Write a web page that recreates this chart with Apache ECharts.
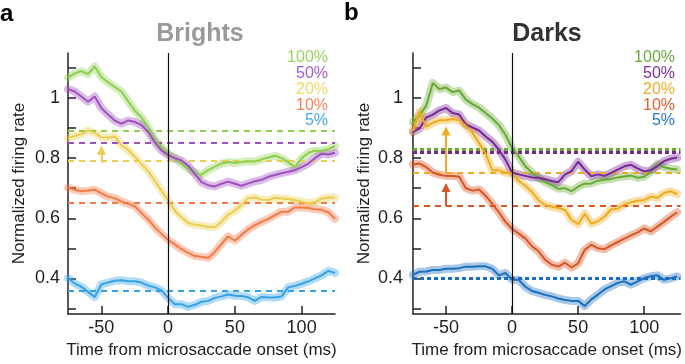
<!DOCTYPE html>
<html><head><meta charset="utf-8">
<script src="https://cdn.jsdelivr.net/npm/echarts@6/dist/echarts.min.js"></script>
<style>html,body{margin:0;padding:0;background:#fff}#c{width:685px;height:364px}</style>
</head><body><div id="c"></div>
<script>
// ---- data ----
const times = [-75,-70,-65,-60,-55,-50,-45,-40,-35,-30,-25,-20,-15,-10,-5,0,5,10,15,20,25,30,35,40,45,50,55,60,65,70,75,80,85,90,95,100,105,110,115,120,125];
const levels = ['100%','50%','20%','10%','5%'];

const brights100 = [1.068,1.082,1.090,1.080,1.105,1.070,1.052,1.037,1.022,0.990,0.958,0.936,0.903,0.862,0.838,0.815,0.800,0.782,0.765,0.752,0.745,0.760,0.772,0.782,0.787,0.784,0.787,0.790,0.789,0.796,0.802,0.808,0.800,0.786,0.770,0.800,0.817,0.825,0.825,0.830,0.840];
const brights50  = [1.030,1.022,1.005,0.988,1.005,0.967,0.945,0.925,0.915,0.925,0.921,0.910,0.888,0.853,0.826,0.810,0.800,0.792,0.775,0.748,0.720,0.710,0.706,0.715,0.722,0.715,0.708,0.716,0.723,0.728,0.738,0.744,0.750,0.755,0.760,0.770,0.782,0.800,0.815,0.812,0.818];
const brights20  = [0.866,0.874,0.880,0.892,0.884,0.870,0.868,0.872,0.843,0.828,0.805,0.780,0.757,0.725,0.692,0.660,0.625,0.603,0.584,0.578,0.576,0.571,0.571,0.588,0.612,0.625,0.645,0.667,0.669,0.662,0.661,0.668,0.666,0.664,0.660,0.655,0.650,0.653,0.665,0.669,0.668];
const brights10  = [0.702,0.695,0.690,0.692,0.695,0.683,0.672,0.667,0.656,0.648,0.640,0.618,0.596,0.570,0.548,0.528,0.513,0.497,0.485,0.474,0.472,0.468,0.488,0.515,0.540,0.525,0.545,0.563,0.577,0.588,0.598,0.610,0.622,0.622,0.636,0.636,0.634,0.630,0.628,0.620,0.598];
const brights5   = [0.401,0.383,0.372,0.355,0.338,0.380,0.386,0.392,0.394,0.390,0.390,0.386,0.376,0.370,0.360,0.335,0.314,0.314,0.305,0.312,0.322,0.325,0.335,0.340,0.346,0.342,0.341,0.337,0.325,0.338,0.336,0.336,0.340,0.370,0.375,0.382,0.390,0.400,0.410,0.425,0.418];

const darks100 = [0.920,0.943,0.975,1.050,1.030,1.035,1.020,1.025,0.995,0.980,0.968,0.950,0.932,0.910,0.878,0.834,0.806,0.773,0.752,0.735,0.720,0.710,0.698,0.700,0.690,0.705,0.715,0.716,0.725,0.728,0.731,0.736,0.739,0.742,0.735,0.738,0.755,0.780,0.770,0.765,0.762];
const darks50  = [0.887,0.899,0.935,0.945,0.959,0.967,0.950,0.945,0.912,0.902,0.892,0.872,0.855,0.828,0.795,0.752,0.746,0.741,0.736,0.735,0.730,0.724,0.720,0.745,0.757,0.788,0.762,0.740,0.746,0.741,0.751,0.762,0.773,0.778,0.766,0.756,0.760,0.773,0.790,0.798,0.802];
const darks20  = [0.890,0.955,0.905,0.918,0.926,0.926,0.930,0.926,0.908,0.885,0.850,0.815,0.760,0.760,0.752,0.748,0.725,0.708,0.688,0.660,0.645,0.638,0.634,0.628,0.595,0.580,0.615,0.582,0.590,0.606,0.630,0.632,0.646,0.653,0.658,0.660,0.672,0.668,0.684,0.690,0.680];
const darks10  = [0.779,0.782,0.770,0.752,0.745,0.741,0.741,0.738,0.700,0.692,0.696,0.675,0.648,0.620,0.588,0.565,0.549,0.533,0.507,0.490,0.462,0.445,0.439,0.452,0.436,0.450,0.495,0.512,0.500,0.497,0.510,0.521,0.532,0.543,0.553,0.566,0.556,0.572,0.588,0.605,0.620];
const darks5   = [0.412,0.422,0.423,0.428,0.428,0.432,0.432,0.434,0.439,0.439,0.440,0.440,0.432,0.410,0.418,0.395,0.395,0.372,0.358,0.352,0.345,0.340,0.333,0.328,0.325,0.325,0.308,0.330,0.346,0.363,0.374,0.385,0.390,0.379,0.390,0.401,0.407,0.410,0.395,0.400,0.407];

const brightsBaseline = [0.893,0.849,0.785,0.650,0.360];
const darksBaseline   = [0.833,0.821,0.754,0.640,0.399];
// arrows: [time, from, to, level index]
const brightsArrows = [[-50,0.785,0.826,2]];
const darksArrows   = [[-50,0.754,0.890,2],[-50,0.640,0.702,3]];

const xTicks = [-50,0,50,100];
const yTicks = [0.3,0.4,0.5,0.6,0.7,0.8,0.9,1.0,1.1];
const yLabels = [0.4,0.6,0.8,1.0];

// ---- style ----
const FONT = '"Liberation Sans", Arial, sans-serif';
const NARROW = '"Liberation Sans Narrow", "Liberation Sans", Arial, sans-serif';
const colorsA = ['#8fcf4f','#a050be','#ebcd50','#f47a46','#35a2e6'];
const colorsB = ['#66aa33','#782896','#f0aa1e','#d95523','#1a6ebe'];
const textA = ['#98d35a','#a65bc8','#f2d868','#f5855a','#45a8ee'];
const textB = ['#6aab38','#7b2e9b','#f2aa2a','#e0622c','#2277c4'];

const panels = [
  {vals:[brights100,brights50,brights20,brights10,brights5], base:brightsBaseline, arrows:brightsArrows, colors:colorsA, text:textA,
   dash:[[6,5],[6,5],[6,5],[6,5],[6,5]], dw:[2,2,2,2,2]},
  {vals:[darks100,darks50,darks20,darks10,darks5], base:darksBaseline, arrows:darksArrows, colors:colorsB, text:textB,
   dash:[[4,3],[4,3],[6,5],[6,5],[4,3]], dw:[3,3,2,2,3]}
];

const series = [];
panels.forEach((p, pi) => {
  p.vals.forEach((v, i) => {
    const data = times.map((t, k) => [t, v[k]]);
    series.push({
      type:'line', xAxisIndex:pi, yAxisIndex:pi, data, showSymbol:false, silent:true,
      z:1, lineStyle:{width:8, color:p.colors[i], opacity:0.38, join:'round', cap:'round'},
      animation:false,
      markLine:{silent:true, symbol:['none','none'], label:{show:false}, animation:false, z:2,
        lineStyle:{color:p.colors[i], type:p.dash[i], width:p.dw[i], opacity:1},
        emphasis:{disabled:true},
        data:[{yAxis:p.base[i]}]}
    });
  });
  p.vals.forEach((v, i) => {
    const data = times.map((t, k) => [t, v[k]]);
    series.push({
      type:'line', xAxisIndex:pi, yAxisIndex:pi, data, showSymbol:false, silent:true,
      z:3, lineStyle:{width:2, color:p.colors[i]}, animation:false
    });
  });
  // vertical onset line
  series.push({type:'line', xAxisIndex:pi, yAxisIndex:pi, data:[], silent:true, animation:false,
    markLine:{silent:true, symbol:['none','none'], label:{show:false}, animation:false,
      lineStyle:{color:'#111', type:'solid', width:1.2}, emphasis:{disabled:true},
      data:[{xAxis:0}]}});
  // arrows
  p.arrows.forEach(a => {
    series.push({type:'line', xAxisIndex:pi, yAxisIndex:pi, data:[], silent:true, animation:false, z:4,
      markLine:{silent:true, symbol:['none','triangle'], symbolSize:9, label:{show:false}, animation:false,
        itemStyle:{color:p.colors[a[3]]},
        lineStyle:{color:p.colors[a[3]], type:'solid', width:2}, emphasis:{disabled:true},
        data:[[{coord:[a[0],a[1]]},{coord:[a[0],a[2]]}]]}});
  });
});

function xAxis(gi, max){
  return {type:'value', gridIndex:gi, min:-75, max:max,
    axisLine:{show:true, onZero:false, lineStyle:{color:'#222', width:1.5}},
    axisTick:{show:true, inside:true, length:8, customValues:xTicks, lineStyle:{color:'#222', width:1.5}},
    axisLabel:{customValues:xTicks, margin:5, fontSize:18, color:'#222', fontFamily:FONT},
    splitLine:{show:false},
    name:'Time from microsaccade onset (ms)', nameLocation:'middle', nameGap:27,
    nameTextStyle:{fontSize:17, color:'#222', fontFamily:FONT}};
}
function yAxis(gi, margin){
  return {type:'value', gridIndex:gi, min:0.281, max:1.150,
    axisLine:{show:true, onZero:false, lineStyle:{color:'#222', width:1.5}},
    axisTick:{show:true, inside:true, length:8, customValues:yTicks, lineStyle:{color:'#222', width:1.5}},
    axisLabel:{customValues:yLabels, margin:margin, fontSize:18, color:'#222', fontFamily:FONT,
      formatter: v => (Math.abs(v-1)<1e-9 ? '1' : v.toFixed(1))},
    splitLine:{show:false},
    name:'Normalized firing rate', nameLocation:'middle', nameGap:40,
    nameTextStyle:{fontSize:17, color:'#222', fontFamily:FONT}};
}

const graphic = [
  {type:'text', x:0, y:14, style:{text:'a', font:'bold 24px '+FONT, fill:'#000', align:'left', verticalAlign:'middle'}},
  {type:'text', x:344, y:13, style:{text:'b', font:'bold 24px '+FONT, fill:'#000', align:'left', verticalAlign:'middle'}},
  {type:'text', x:200, y:34, style:{text:'Brights', font:'bold 25px '+FONT, fill:'#9a9a9a', align:'center', verticalAlign:'middle'}},
  {type:'text', x:547, y:34, style:{text:'Darks', font:'bold 25px '+FONT, fill:'#333', align:'center', verticalAlign:'middle'}}
];
const legendY = [57.5,73.5,89.5,105.5,121];
levels.forEach((lv, i) => {
  graphic.push({type:'text', x:328, y:legendY[i], style:{text:lv, font:'16px '+NARROW, fill:textA[i], align:'right', verticalAlign:'middle'}});
  graphic.push({type:'text', x:675, y:legendY[i], style:{text:lv, font:'16px '+NARROW, fill:textB[i], align:'right', verticalAlign:'middle'}});
});

const chart = echarts.init(document.getElementById('c'), null, {renderer:'canvas'});
chart.setOption({
  animation:false,
  backgroundColor:'#fff',
  grid:[{left:68, top:53, width:267, height:265}, {left:413, top:53, width:270, height:265}],
  xAxis:[xAxis(0,125), xAxis(1,127.5)],
  yAxis:[yAxis(0,8), yAxis(1,10)],
  series,
  graphic
});
</script></body></html>
